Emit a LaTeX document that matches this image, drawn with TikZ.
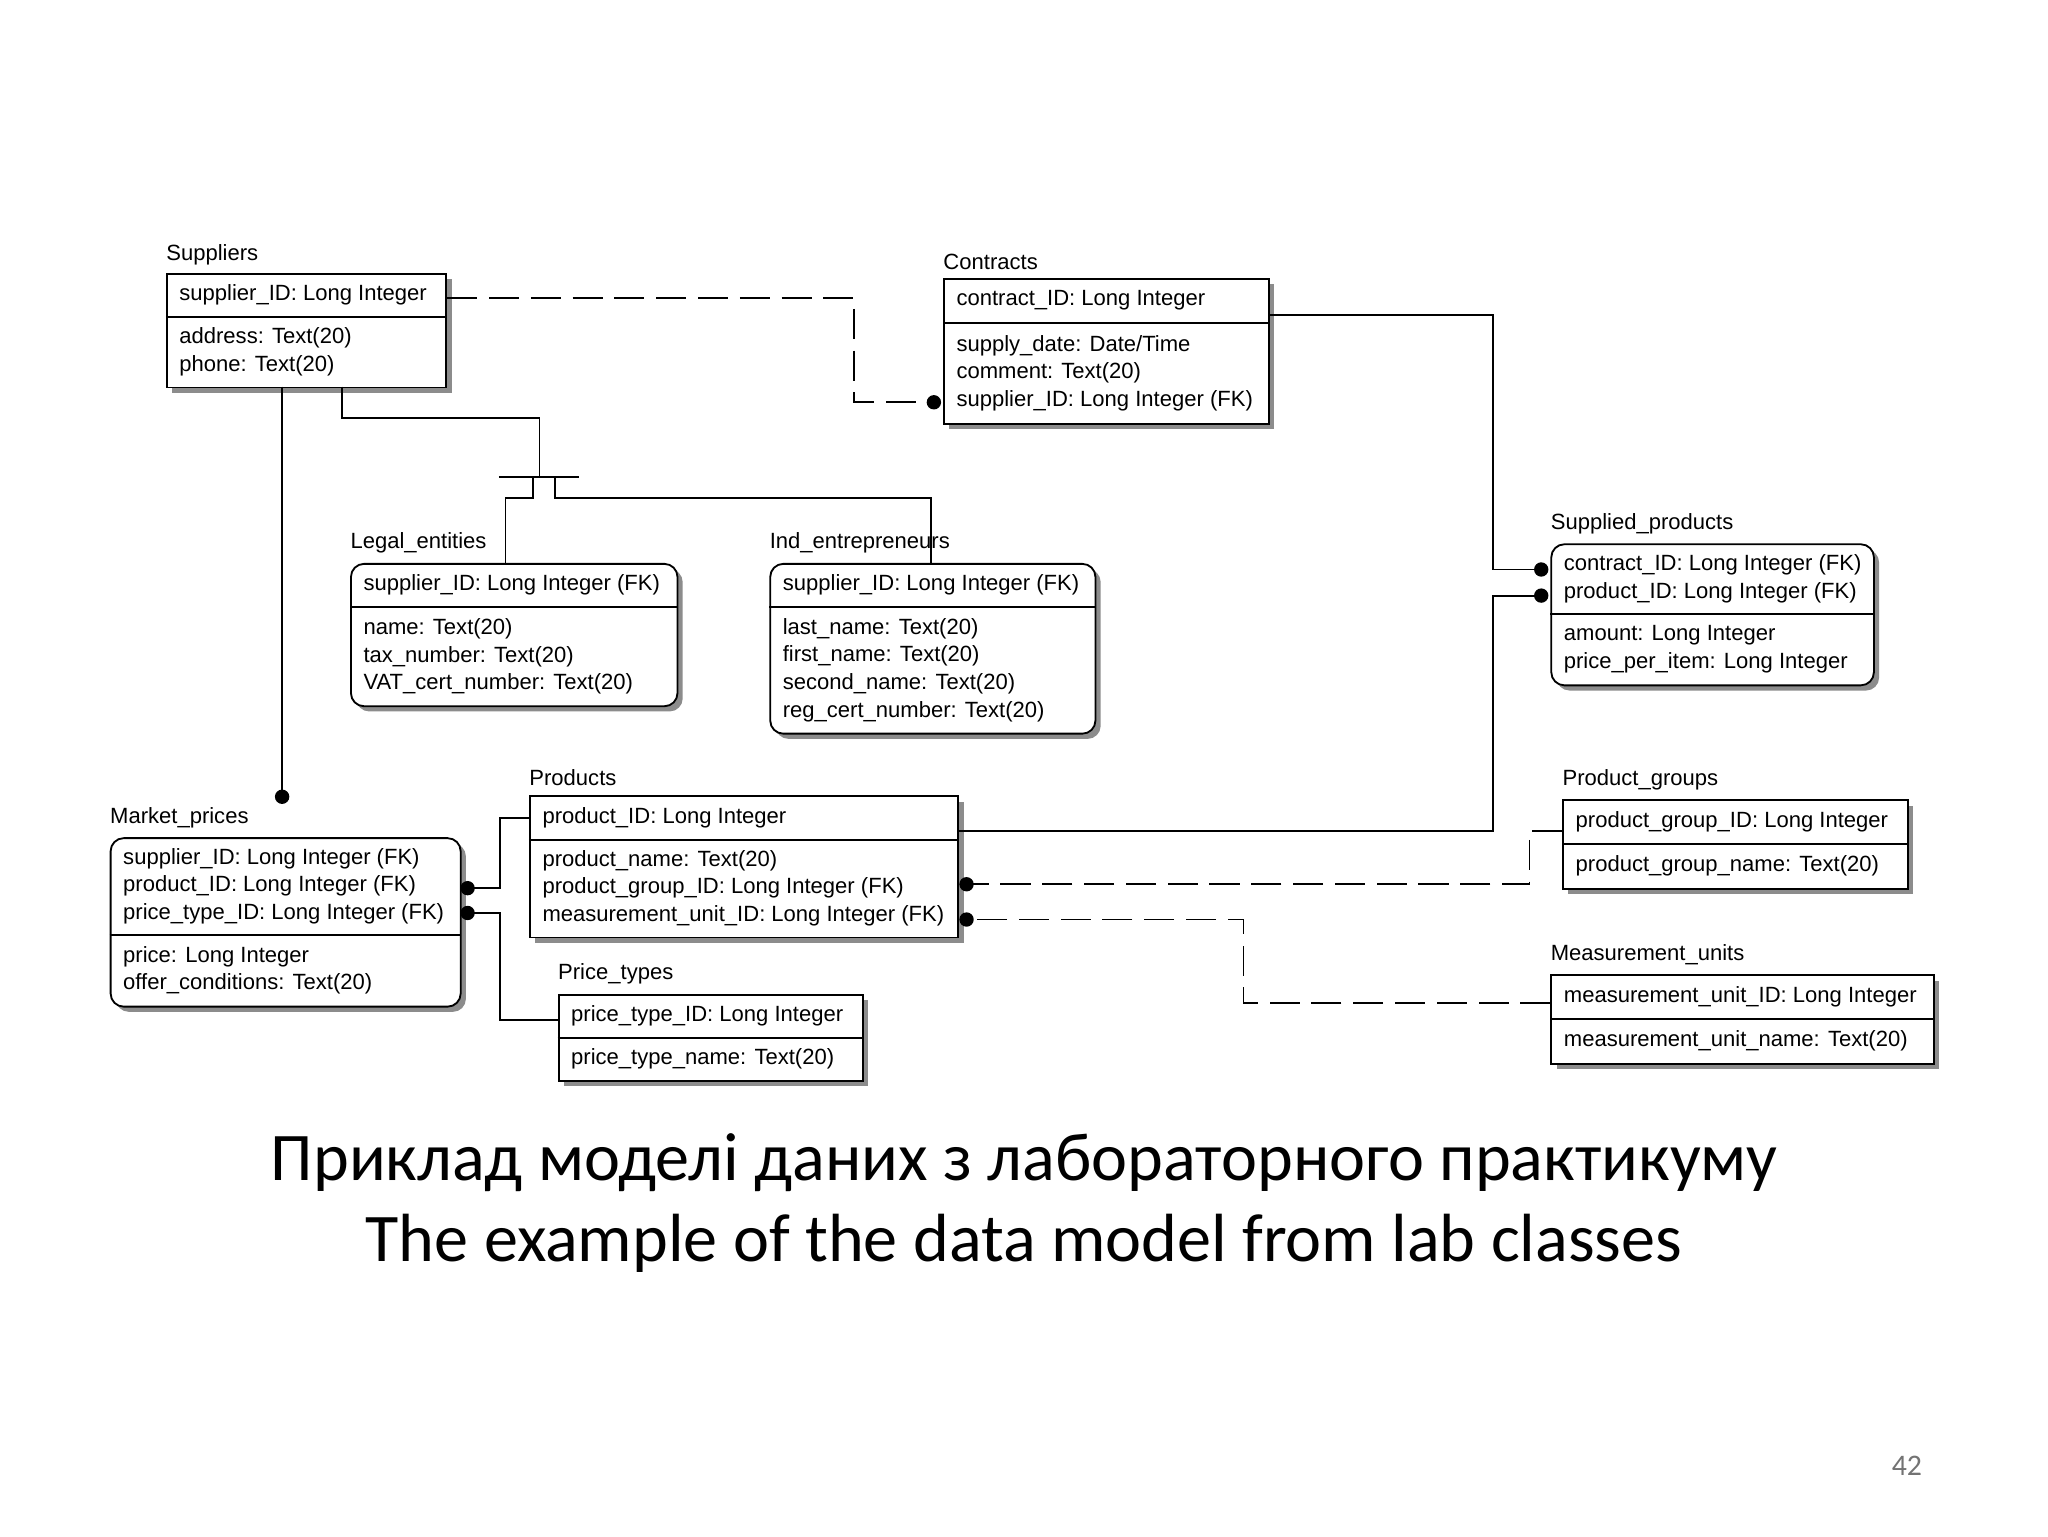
\documentclass[tikz,border=0pt]{standalone}
\usepackage{fontspec}
\setmainfont{Liberation Sans}
\newfontfamily\capfont{Carlito}
\usetikzlibrary{shadows}
\tikzset{
  ent/.style={draw,line width=0.8pt,fill=white,inner sep=0pt,
    drop shadow={shadow xshift=0.8mm,shadow yshift=-0.8mm,fill=black!45,opacity=1}},
  rnd/.style={rounded corners=2mm},
  txt/.style={inner sep=0pt,align=left,font=\fontsize{9.6}{12}\selectfont},
  ttl/.style={inner sep=0pt,anchor=south west,font=\fontsize{9.6}{12}\selectfont},
  rel/.style={line width=0.8pt},
  dsh/.style={rel,dash pattern=on 4.6mm off 1.8mm},
  dot/.style={circle,fill=black,inner sep=0pt,minimum size=2.2mm}
}
\newcommand\ent[8][]{%
  \node[ent,#1,anchor=north west,minimum width={(#5-#3)*0.2mm},minimum height={(#6-#4)*0.2mm}] (#2) at (#3,#4) {};
  \draw[line width=0.8pt] (#3,#7) -- (#5,#7);
  \node[txt,anchor=west] at (#3+10,{(#4+#7)/2}) {#8};
}
\newcommand\attrs[3]{\node[txt,anchor=west] at (#1+10,#2) {#3};}
\begin{document}
\begin{tikzpicture}[x=0.2mm,y=-0.2mm]
\useasboundingbox[fill=white] (0,0) rectangle (1568,1176);
% entities
\ent{sup}{127}{209}{341}{296}{243}{supplier\_ID: Long Integer}
\attrs{127}{269.5}{address: Text(20)\\phone: Text(20)}
\node[ttl] at (127,203) {Suppliers};

\ent{con}{722}{213}{971}{324}{247}{contract\_ID: Long Integer}
\attrs{722}{285.5}{supply\_date: Date/Time\\comment: Text(20)\\supplier\_ID: Long Integer (FK)}
\node[ttl] at (722,207) {Contracts};

\ent[rnd]{leg}{268}{431}{518}{540}{465}{supplier\_ID: Long Integer (FK)}
\attrs{268}{502.5}{name: Text(20)\\tax\_number: Text(20)\\VAT\_cert\_number: Text(20)}
\node[ttl] at (268,424) {Legal\_entities};

\ent[rnd]{ind}{589}{431}{838}{561}{465}{supplier\_ID: Long Integer (FK)}
\attrs{589}{513}{last\_name: Text(20)\\first\_name: Text(20)\\second\_name: Text(20)\\reg\_cert\_number: Text(20)}
\node[ttl] at (589,424) {Ind\_entrepreneurs};

\ent[rnd]{spp}{1187}{416}{1434}{524}{470}{contract\_ID: Long Integer (FK)\\product\_ID: Long Integer (FK)}
\attrs{1187}{497}{amount: Long Integer\\price\_per\_item: Long Integer}
\node[ttl] at (1187,409) {Supplied\_products};

\ent[rnd]{mkt}{84}{641}{352}{770}{716}{supplier\_ID: Long Integer (FK)\\product\_ID: Long Integer (FK)\\price\_type\_ID: Long Integer (FK)}
\attrs{84}{743}{price: Long Integer\\offer\_conditions: Text(20)}
\node[ttl] at (84,634) {Market\_prices};

\ent{prd}{405}{609}{733}{717}{643}{product\_ID: Long Integer}
\attrs{405}{680}{product\_name: Text(20)\\product\_group\_ID: Long Integer (FK)\\measurement\_unit\_ID: Long Integer (FK)}
\node[ttl] at (405,602) {Products};

\ent{pt}{427}{761}{660}{827}{795}{price\_type\_ID: Long Integer}
\attrs{427}{811}{price\_type\_name: Text(20)}
\node[ttl] at (427,754) {Price\_types};

\ent{pg}{1196}{612}{1460}{680}{646}{product\_group\_ID: Long Integer}
\attrs{1196}{663}{product\_group\_name: Text(20)}
\node[ttl] at (1196,605) {Product\_groups};

\ent{mu}{1187}{746}{1480}{814}{780}{measurement\_unit\_ID: Long Integer}
\attrs{1187}{797}{measurement\_unit\_name: Text(20)}
\node[ttl] at (1187,739) {Measurement\_units};

% connectors
\coordinate (d1) at (715,308);
\draw[dsh] (sup.east |- 0,228) -- (654,228) -- (654,308) -- (d1);
\node[dot] at (d1) {};

\coordinate (d2) at (216,610);
\draw[rel] (216,296) -- (d2);
\node[dot] at (d2) {};

\draw[rel] (262,296) -- (262,320) -- (413,320) -- (413,365);
\draw[rel] (382,365) -- (443,365);
\draw[rel] (408,365) -- (408,381) -- (387,381) -- (leg.north -| 387,0);
\draw[rel] (425,365) -- (425,381) -- (713,381) -- (ind.north -| 713,0);

\coordinate (d3) at (1180,436);
\coordinate (d4) at (1180,456);
\draw[rel] (con.east |- 0,241) -- (1143,241) -- (1143,436) -- (d3);
\draw[rel] (prd.east |- 0,636) -- (1143,636) -- (1143,456) -- (d4);
\node[dot] at (d3) {}; \node[dot] at (d4) {};

\coordinate (d5) at (358,680);
\coordinate (d6) at (358,699);
\draw[rel] (prd.west |- 0,626) -- (383,626) -- (383,680) -- (d5);
\draw[rel] (pt.west |- 0,781) -- (383,781) -- (383,699) -- (d6);
\node[dot] at (d5) {}; \node[dot] at (d6) {};

\coordinate (d7) at (740,677);
\coordinate (d8) at (740,704);
\draw[dsh] (pg.west |- 0,636) -- (1171,636) -- (1171,677) -- (d7);
\draw[dsh] (mu.west |- 0,768) -- (952,768) -- (952,704) -- (d8);
\node[dot] at (d7) {}; \node[dot] at (d8) {};

% caption
\node[font=\capfont\fontsize{29.7}{35}\selectfont,align=center,inner sep=0pt] (cap) at (784,921)
  {Приклад моделі даних з лабораторного практикуму\\The example of the data model from lab classes};
\node[font=\capfont\fontsize{13}{15}\selectfont,text=black!55,inner sep=0pt] (pg42) at (1460,1122) {42};
\end{tikzpicture}
\end{document}
